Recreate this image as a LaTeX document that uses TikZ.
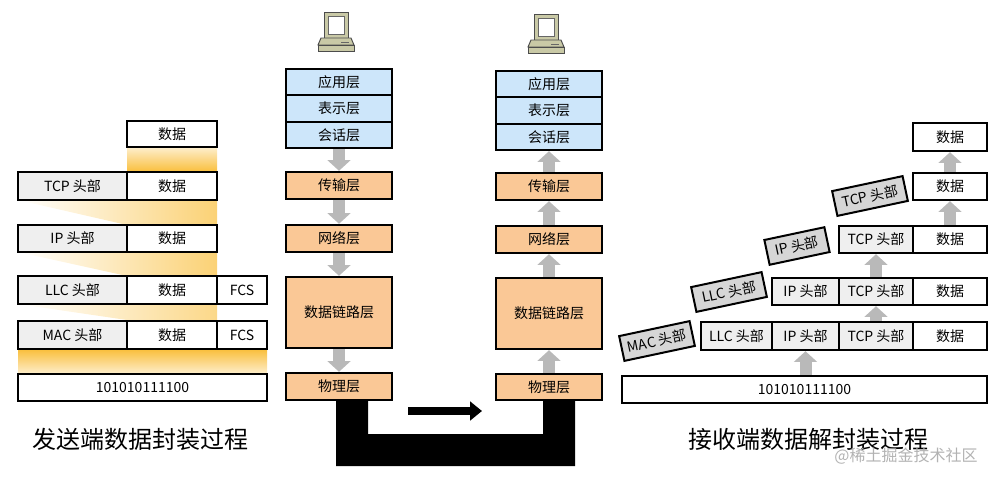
\documentclass[tikz,border=0pt]{standalone}
\usepackage{fontspec}
\setmainfont{Noto Sans CJK SC}
\usetikzlibrary{arrows.meta}
\definecolor{hdr}{HTML}{EFEFEF}
\definecolor{tilt}{HTML}{D6D6D6}
\definecolor{blu}{HTML}{CDE6FA}
\definecolor{org}{HTML}{FAC896}
\definecolor{yel}{HTML}{F9BE3A}
\definecolor{pc}{HTML}{C9C9A6}
\tikzset{
  cell/.style={draw=black,line width=1.8pt,inner sep=0pt,font=\fontsize{10.5}{12}\selectfont,fill=white},
  gar/.style={line width=9pt,draw=gray!55,-{Triangle[width=17pt,length=8pt]}},
  tiltbox/.style={cell,fill=tilt,rotate=12,minimum width=54pt,minimum height=19pt,line width=1.5pt},
  captxt/.style={font=\fontsize{18}{20}\selectfont}
}
\newcommand\bx[7][]{\node[cell,#1,minimum width={(#5-#3)*0.75pt},minimum height={(#6-#4)*0.75pt}] (#2) at ({(#3+#5)/2},{(#4+#6)/2}) {#7};}
\newcommand\pcicon[2]{%
  \begin{scope}[shift={(#1,#2)},line width=0.7pt]
  \draw[fill=pc,draw=black!70] (-13,-22) rectangle (11,4);
  \draw[fill=white,draw=black!60] (-9,-18) rectangle (7,0);
  \draw[fill=pc,draw=black!70] (-16,4) -- (14,4) -- (17,11) -- (-19,11) -- cycle;
  \draw[fill=pc,draw=black!70] (-19,11) rectangle (17,17);
  \draw[black!60] (4,8) -- (12,8);
  \end{scope}}
\begin{document}
\begin{tikzpicture}[x=0.75pt,y=-0.75pt]
\useasboundingbox (0,0) rectangle (1004,479);
% ---------- left: encapsulation ----------
\shade[top color=yel!25,bottom color=yel] (127,147) rectangle (217,172);
\shade[left color=white,right color=yel!70] (18,200) -- (217,200) -- (217,225) -- (127,225) -- cycle;
\shade[left color=white,right color=yel!70] (18,252) -- (217,252) -- (217,276) -- (127,276) -- cycle;
\shade[left color=white,right color=yel!60] (18,304) -- (217,304) -- (217,320) -- (127,320) -- cycle;
\shade[top color=yel,bottom color=yel!25] (18,349) rectangle (267,374);
\bx{ld0}{127}{121}{217}{147}{数据}
\bx[fill=hdr]{lt1}{18}{172}{127}{200}{TCP 头部}
\bx{ld1}{127}{172}{217}{200}{数据}
\bx[fill=hdr]{li2}{18}{225}{127}{252}{IP 头部}
\bx{ld2}{127}{225}{217}{252}{数据}
\bx[fill=hdr]{ll3}{18}{276}{127}{304}{LLC 头部}
\bx{ld3}{127}{276}{217}{304}{数据}
\bx{lf3}{217}{276}{267}{304}{FCS}
\bx[fill=hdr]{lm4}{18}{321}{127}{349}{MAC 头部}
\bx{ld4}{127}{321}{217}{349}{数据}
\bx{lf4}{217}{321}{267}{349}{FCS}
\bx{lb}{18}{374}{267}{401}{101010111100}
\node[captxt] (capl) at (140,439) {发送端数据封装过程};
% ---------- sender stack ----------
\pcicon{337}{34}
\bx[fill=blu]{sa}{286}{69}{392}{95}{应用层}
\bx[fill=blu]{sp}{286}{95}{392}{122}{表示层}
\bx[fill=blu]{ss}{286}{122}{392}{148}{会话层}
\bx[fill=org]{st}{286}{172}{392}{199}{传输层}
\bx[fill=org]{sn}{286}{225}{392}{252}{网络层}
\bx[fill=org]{sd}{286}{277}{392}{348}{数据链路层}
\bx[fill=org]{sph}{286}{373}{392}{400}{物理层}
\draw[gar] (ss.south) -- (st.north);
\draw[gar] (st.south) -- (sn.north);
\draw[gar] (sn.south) -- (sd.north);
\draw[gar] (sd.south) -- (sph.north);
% ---------- receiver stack ----------
\pcicon{547}{36}
\bx[fill=blu]{ra}{496}{71}{602}{97}{应用层}
\bx[fill=blu]{rp}{496}{97}{602}{124}{表示层}
\bx[fill=blu]{rs}{496}{124}{602}{150}{会话层}
\bx[fill=org]{rt}{496}{173}{602}{200}{传输层}
\bx[fill=org]{rn}{496}{226}{602}{253}{网络层}
\bx[fill=org]{rd}{496}{278}{602}{349}{数据链路层}
\bx[fill=org]{rph}{496}{374}{602}{400}{物理层}
\draw[gar] (rt.north) -- (rs.south);
\draw[gar] (rn.north) -- (rt.south);
\draw[gar] (rd.north) -- (rn.south);
\draw[gar] (rph.north) -- (rd.south);
% cable
\fill[black] (336,400) -- (368,400) -- (368,434) -- (543,434) -- (543,400) -- (575,400) -- (575,466) -- (336,466) -- cycle;
\coordinate (a1) at (408,411); \coordinate (a2) at (482,411);
\draw[line width=6pt,-{Triangle[width=14pt,length=9pt]}] (a1) -- (a2);
% ---------- right: decapsulation ----------
\bx{rb}{622}{376}{987}{403}{101010111100}
\bx[fill=hdr]{r4l}{701}{322}{772}{350}{LLC 头部}
\bx[fill=hdr]{r4i}{772}{322}{839}{350}{IP 头部}
\bx[fill=hdr]{r4t}{839}{322}{913}{350}{TCP 头部}
\bx{r4d}{913}{322}{987}{350}{数据}
\bx[fill=hdr]{r3i}{772}{278}{839}{305}{IP 头部}
\bx[fill=hdr]{r3t}{839}{278}{913}{305}{TCP 头部}
\bx{r3d}{913}{278}{987}{305}{数据}
\bx[fill=hdr]{r2t}{839}{226}{913}{253}{TCP 头部}
\bx{r2d}{913}{226}{987}{253}{数据}
\bx{r1d}{913}{173}{987}{200}{数据}
\bx{r0d}{913}{123}{987}{151}{数据}
\node[tiltbox] (tm) at (657,341) {MAC 头部};
\node[tiltbox] (tl) at (729,292) {LLC 头部};
\node[tiltbox,minimum width=46pt] (ti) at (797,246) {IP 头部};
\node[tiltbox] (tt) at (870,196) {TCP 头部};
\draw[gar] (rb.north -| r4i) -- (r4i.south);
\draw[gar] (r4t.north) -- (r3t.south);
\draw[gar] (r3t.north) -- (r2t.south);
\draw[gar] (r2d.north) -- (r1d.south);
\draw[gar] (r1d.north) -- (r0d.south);
\node[captxt] (capr) at (808,439) {接收端数据解封装过程};
\node[font=\fontsize{12}{14}\selectfont,text=gray!60] (wm) at (906,456) {@稀土掘金技术社区};
\end{tikzpicture}
\end{document}
